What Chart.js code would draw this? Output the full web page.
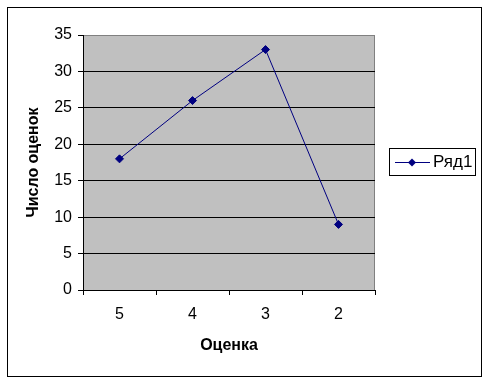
<!DOCTYPE html>
<html>
<head>
<meta charset="utf-8">
<script src="https://cdn.jsdelivr.net/npm/chart.js@4.4.0/dist/chart.umd.min.js"></script>
<style>
  html, body { margin: 0; padding: 0; background: #fff; }
  #wrap { width: 488px; height: 383px; }
</style>
</head>
<body>
<div id="wrap"><canvas id="chart" width="488" height="383"></canvas></div>
<script>
// данные графика
const categories = ['5', '4', '3', '2'];
const values = [18, 26, 33, 9];
const seriesName = 'Ряд1';
const yTicks = [0, 5, 10, 15, 20, 25, 30, 35];

const FONT = '"Liberation Sans", Arial, sans-serif';
const NAVY = '#000080';

// рамка, серый фон области построения и легенда
const frame = {
    id: 'frame',
    beforeDraw(chart) {
        const ctx = chart.ctx;
        const a = chart.chartArea;
        ctx.save();
        ctx.fillStyle = '#fff';
        ctx.fillRect(0, 0, chart.width, chart.height);
        ctx.fillStyle = '#c0c0c0';
        ctx.fillRect(a.left, a.top, a.right - a.left, a.bottom - a.top);
        ctx.strokeStyle = '#808080';
        ctx.lineWidth = 1;
        ctx.strokeRect(a.left + 0.5, a.top + 0.5, a.right - a.left - 1, a.bottom - a.top);
        ctx.restore();
    },
    afterDraw(chart) {
        const ctx = chart.ctx;
        ctx.save();
        ctx.strokeStyle = '#000';
        ctx.lineWidth = 1;
        ctx.strokeRect(7.5, 7.5, 474, 369);

        // легенда
        ctx.fillStyle = '#fff';
        ctx.fillRect(389.5, 148.5, 86, 27);
        ctx.strokeRect(389.5, 148.5, 86, 27);
        const ly = 162.5;
        ctx.strokeStyle = NAVY;
        ctx.beginPath();
        ctx.moveTo(395, ly);
        ctx.lineTo(430, ly);
        ctx.stroke();
        ctx.fillStyle = NAVY;
        ctx.beginPath();
        ctx.moveTo(412, ly - 4);
        ctx.lineTo(416, ly);
        ctx.lineTo(412, ly + 4);
        ctx.lineTo(408, ly);
        ctx.closePath();
        ctx.fill();
        ctx.fillStyle = '#000';
        ctx.font = '17px ' + FONT;
        ctx.textBaseline = 'middle';
        ctx.fillText(chart.data.datasets[0].label, 433, ly);
        ctx.restore();
    }
};

new Chart(document.getElementById('chart').getContext('2d'), {
    type: 'line',
    data: {
        labels: categories,
        datasets: [{
            label: seriesName,
            data: values,
            borderColor: NAVY,
            backgroundColor: NAVY,
            borderWidth: 1,
            pointStyle: 'rectRot',
            pointRadius: 4,
            pointBackgroundColor: NAVY,
            pointBorderColor: NAVY,
            tension: 0
        }]
    },
    options: {
        responsive: false,
        animation: false,
        layout: { padding: { left: 24, top: 35, right: 113, bottom: 28 } },
        plugins: {
            legend: { display: false },
            tooltip: { enabled: false }
        },
        scales: {
            x: {
                offset: true,
                grid: {
                    offset: true,
                    drawOnChartArea: false,
                    tickLength: 5,
                    tickColor: '#000'
                },
                border: { color: '#000', width: 1 },
                ticks: { color: '#000', font: { family: FONT, size: 16 }, padding: 10 },
                title: {
                    display: true,
                    text: 'Оценка',
                    color: '#000',
                    font: { family: FONT, size: 16, weight: 'bold' },
                    padding: 0
                },
                afterFit(s) { s.height = 65; }
            },
            y: {
                min: 0,
                max: 35,
                afterBuildTicks(s) { s.ticks = yTicks.map(v => ({ value: v })); },
                grid: {
                    color: (c) => (c.tick && c.tick.value === 35 ? 'rgba(0,0,0,0)' : '#000'),
                    tickLength: 5,
                    tickColor: '#000'
                },
                border: { color: '#000', width: 1 },
                ticks: { color: '#000', font: { family: FONT, size: 16 }, padding: 6 },
                title: {
                    display: true,
                    text: 'Число оценок',
                    color: '#000',
                    font: { family: FONT, size: 16, weight: 'bold' },
                    padding: 0
                },
                afterFit(s) { s.width = 59; }
            }
        }
    },
    plugins: [frame]
});
</script>
</body>
</html>
